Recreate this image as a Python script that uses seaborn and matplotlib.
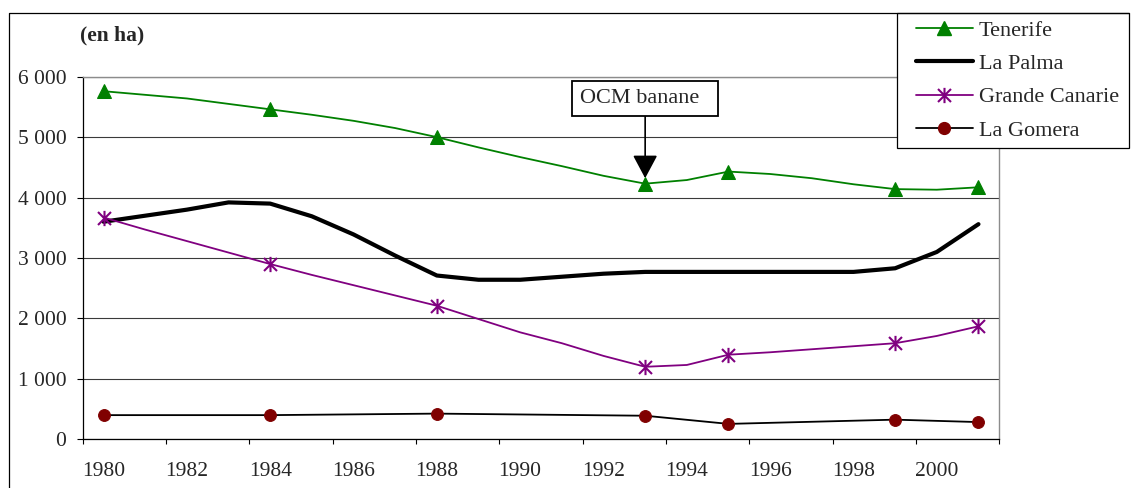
import matplotlib
matplotlib.use("Agg")
import matplotlib.pyplot as plt
from matplotlib.lines import Line2D
from matplotlib.path import Path
from matplotlib.patches import Rectangle
import pandas as pd
import seaborn as sns

# surfaces en bananeraies (en ha)
annees = list(range(1980, 2002))
annees_releves = [1980, 1984, 1988, 1993, 1995, 1999, 2001]

tenerife = [5760, 5700, 5640, 5550, 5460, 5370, 5270, 5150, 5000, 4830, 4670,
            4520, 4360, 4230, 4290, 4430, 4390, 4320, 4220, 4140, 4130, 4170]
la_palma = [3600, 3700, 3800, 3920, 3900, 3690, 3390, 3040, 2710, 2640, 2640,
            2690, 2740, 2770, 2770, 2770, 2770, 2770, 2770, 2830, 3100, 3560]
grande_canarie = [3670, 3470, 3280, 3090, 2900, 2720, 2550, 2380, 2210, 1990, 1770,
                  1590, 1380, 1200, 1230, 1400, 1440, 1490, 1540, 1590, 1710, 1870]
la_gomera = [400, 400, 425, 390, 255, 325, 285]

iles = ["Tenerife", "La Palma", "Grande Canarie", "La Gomera"]
y_ticks = [0, 1000, 2000, 3000, 4000, 5000, 6000]
x_labels = list(range(1980, 2001, 2))

vert, violet, bordeaux = "#008000", "#800080", "#800000"

df = pd.DataFrame({"annee": annees, "Tenerife": tenerife,
                   "La Palma": la_palma, "Grande Canarie": grande_canarie})
pts = df[df["annee"].isin(annees_releves)]
gomera = pd.DataFrame({"annee": annees_releves, "surface": la_gomera})

sns.set_style("white")
plt.rcParams["font.family"] = ["Liberation Serif", "DejaVu Serif"]

# asterisque facon Excel : verticale + croix
etoile = Path([(0, -1), (0, 1), (-0.85, -0.85), (0.85, 0.85), (-0.85, 0.85), (0.85, -0.85)],
              [Path.MOVETO, Path.LINETO] * 3)

fig = plt.figure(figsize=(11.33, 4.88), dpi=100)
ax = fig.add_axes([82.7 / 1133, (488 - 439.3) / 488, (999.3 - 82.7) / 1133, (439.3 - 76.7) / 488])

sns.lineplot(data=df, x="annee", y="Tenerife", color=vert, lw=1.3, ax=ax)
sns.lineplot(data=df, x="annee", y="La Palma", color="black", lw=3.0, ax=ax)
sns.lineplot(data=df, x="annee", y="Grande Canarie", color=violet, lw=1.3, ax=ax)
sns.lineplot(data=gomera, x="annee", y="surface", color="black", lw=1.3, ax=ax)

sns.lineplot(data=pts, x="annee", y="Tenerife", color=vert, linestyle="", marker="^",
             markersize=9.5, mec=vert, ax=ax, zorder=4)
sns.lineplot(data=pts, x="annee", y="Grande Canarie", color=violet, linestyle="", marker=etoile,
             markersize=11, mec=violet, mew=1.5, ax=ax, zorder=4)
sns.lineplot(data=gomera, x="annee", y="surface", color=bordeaux, linestyle="", marker="o",
             markersize=8.5, mec=bordeaux, ax=ax, zorder=4)

ax.set_xlim(1979.5, 2001.5)
ax.set_ylim(0, 6000)
ax.set_xlabel("")
ax.set_ylabel("")

ax.set_xticks([a - 0.5 for a in range(1980, 2003, 2)])
ax.set_xticklabels([])
ax.set_xticks(x_labels, minor=True)
ax.set_xticklabels([str(a) for a in x_labels], minor=True)
ax.tick_params(axis="x", which="major", direction="out", length=3.5, width=0.8,
               color="black", bottom=True)
ax.tick_params(axis="x", which="minor", length=0, pad=16, labelsize=15.5)

ax.set_yticks(y_ticks)
ax.set_yticklabels([f"{v:,}".replace(",", " ") for v in y_ticks])
ax.tick_params(axis="y", direction="out", length=4.3, width=0.8, color="black",
               pad=7.5, labelsize=15.5, left=True)

ax.grid(axis="y", color="#3a3a3a", lw=0.8)
ax.set_axisbelow(True)
for s in ["left", "bottom"]:
    ax.spines[s].set_color("black")
    ax.spines[s].set_linewidth(0.9)
for s in ["top", "right"]:
    ax.spines[s].set_color("#8c8c8c")
    ax.spines[s].set_linewidth(1.0)

ax.annotate("OCM banane  ", xy=(1993, 4320), xytext=(1993, 5647),
            ha="center", va="center", fontsize=16,
            bbox=dict(boxstyle="square,pad=0.36", fc="white", ec="black", lw=1.3),
            arrowprops=dict(arrowstyle="-|>,head_length=0.9,head_width=0.48",
                            color="black", lw=1.2, shrinkA=0, shrinkB=0))

fig.text(80 / 1133, 1 - 35 / 488, "(en ha)", fontsize=15.5, fontweight="bold", va="center")

# cadre de la zone du graphique : bord gauche et bord haut seulement
fig.add_artist(Line2D([9 / 1133, 9 / 1133, 1129 / 1133], [0, 1 - 13 / 488, 1 - 13 / 488],
                      transform=fig.transFigure, color="black", lw=0.9))

# cadre de la legende
fig.add_artist(Rectangle((897 / 1133, 1 - 148 / 488), (1129 - 897) / 1133, (148 - 13) / 488,
                         transform=fig.transFigure, fc="white", ec="black", lw=0.9, zorder=1))

poignees = [
    Line2D([], [], color=vert, lw=1.3, marker="^", markersize=9.5, mec=vert),
    Line2D([], [], color="black", lw=3.0),
    Line2D([], [], color=violet, lw=1.3, marker=etoile, markersize=11, mew=1.5, mec=violet),
    Line2D([], [], color="black", lw=1.3, marker="o", markersize=8.5, mfc=bordeaux, mec=bordeaux),
]
leg = fig.legend(poignees, iles, loc="upper left", bbox_to_anchor=(916 / 1133, 1 - 20 / 488),
                 frameon=False, fontsize=16, handlelength=2.55, handletextpad=0.28,
                 labelspacing=0.58, borderpad=0, borderaxespad=0)

fig.savefig("out.png", dpi=100)
